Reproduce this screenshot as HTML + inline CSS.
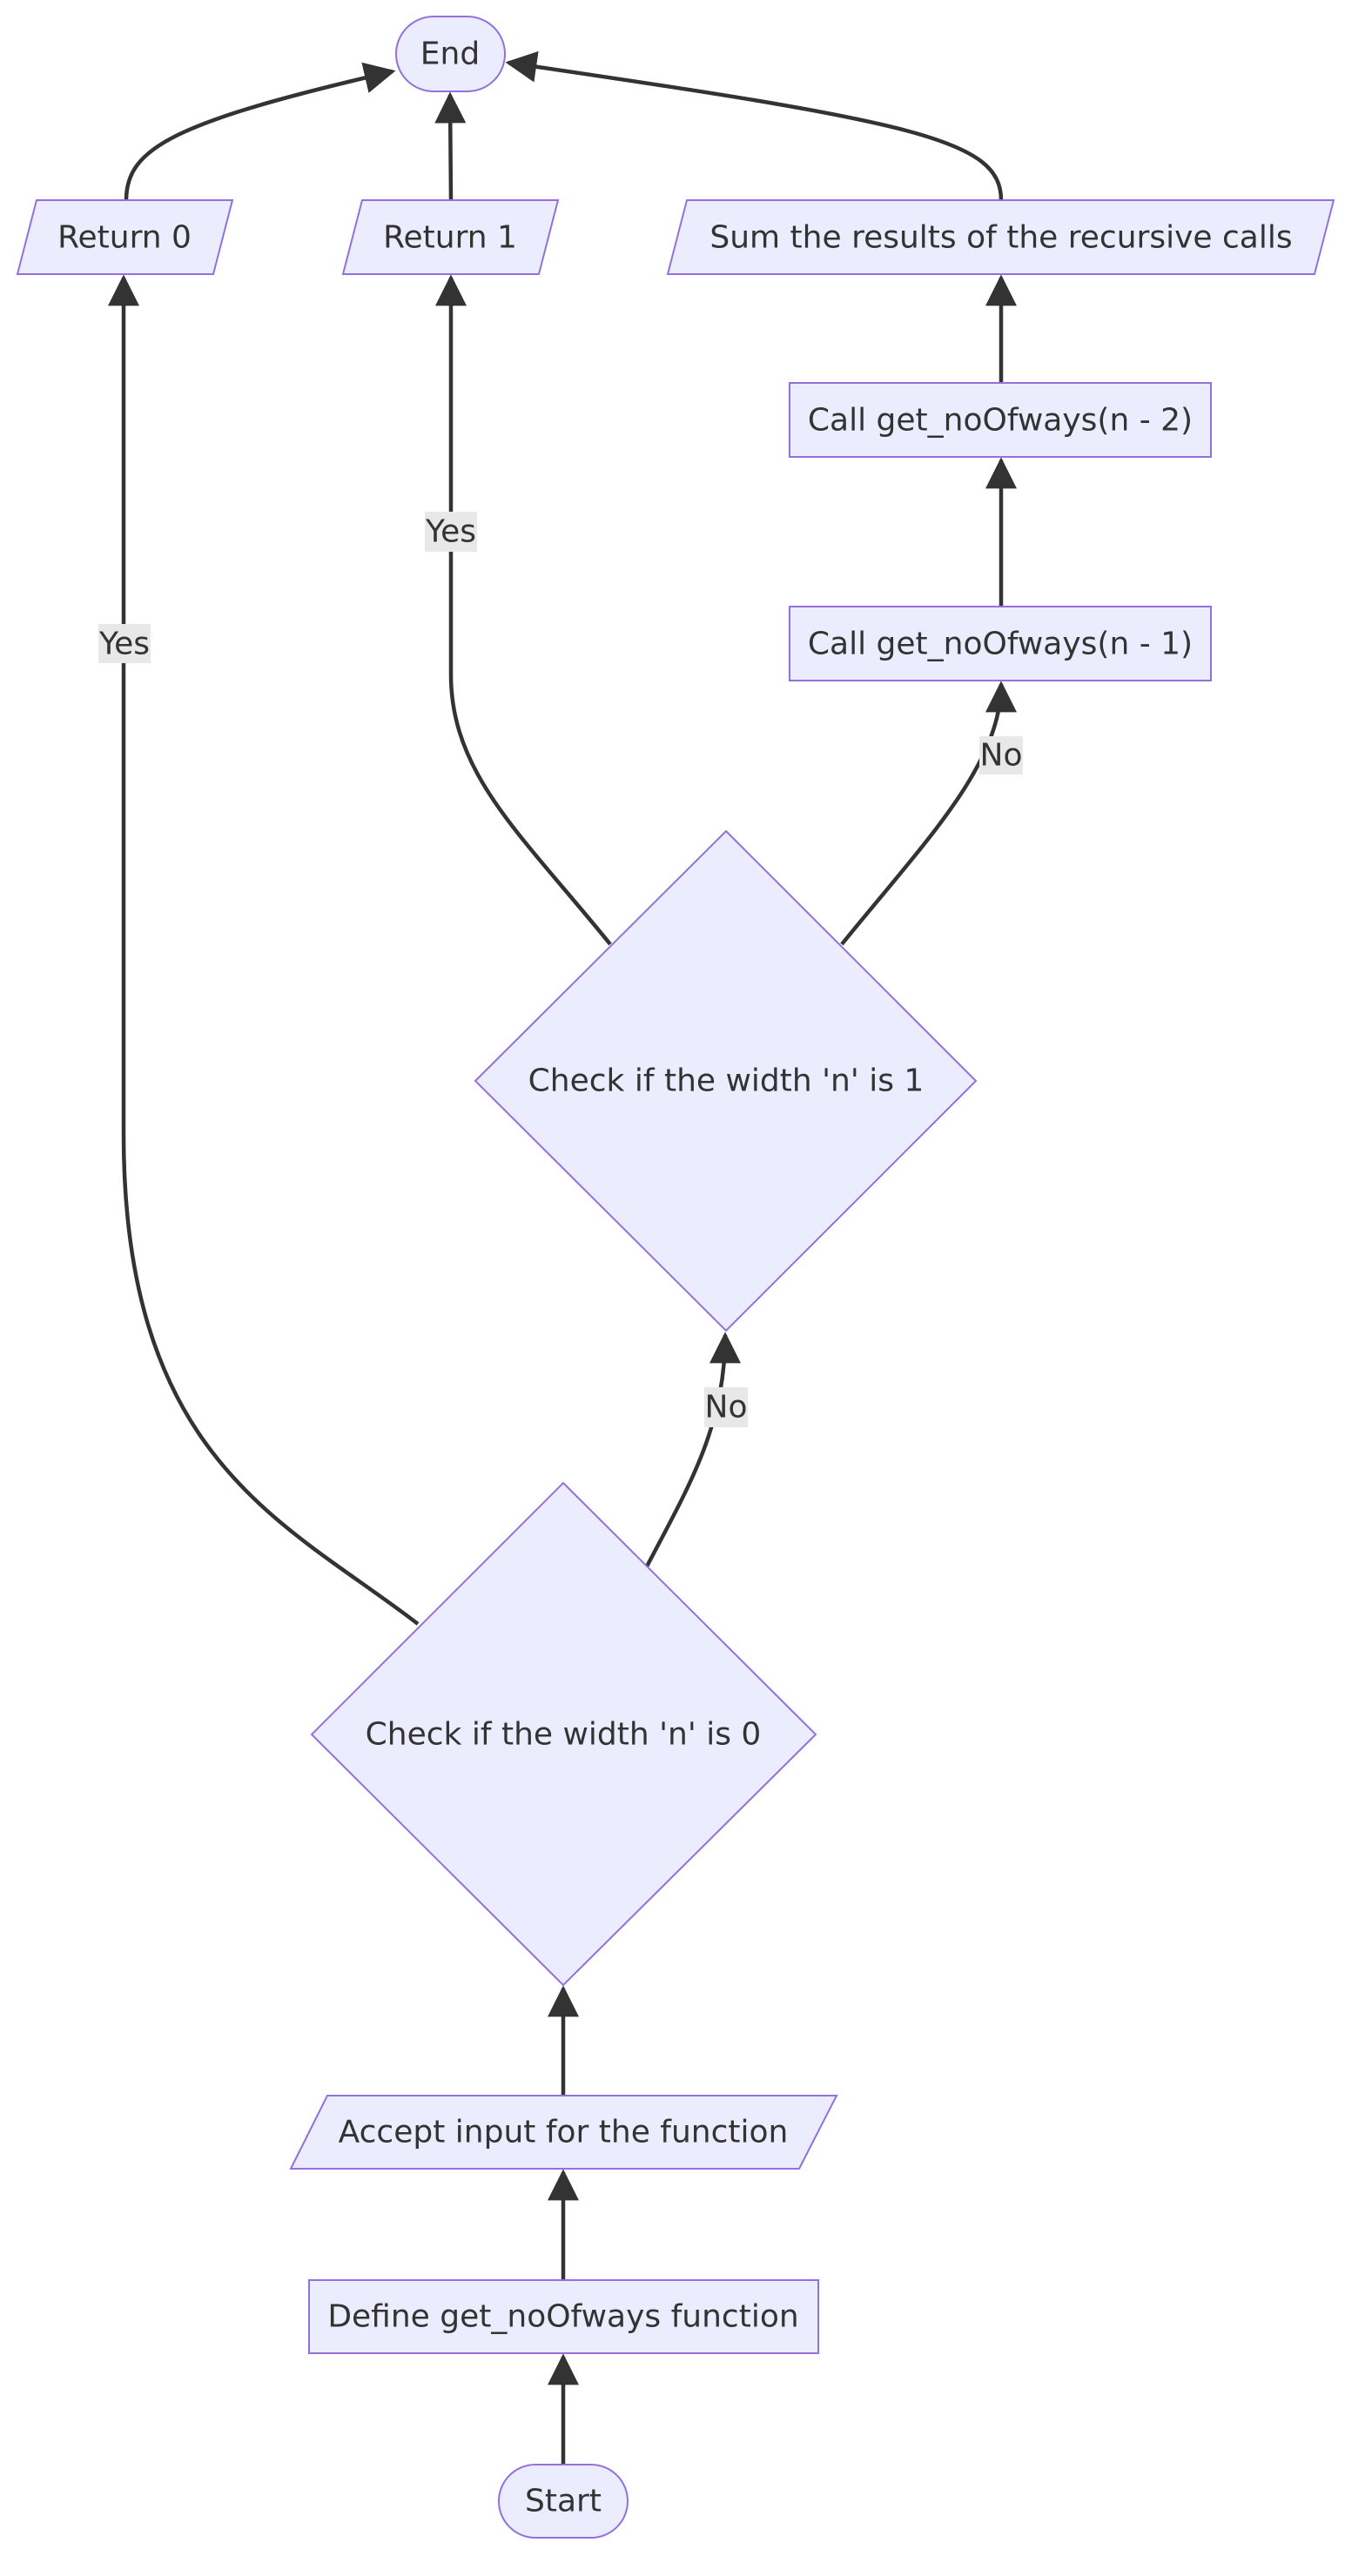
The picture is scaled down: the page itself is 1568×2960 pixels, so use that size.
<!DOCTYPE html>
<html><head><meta charset="utf-8"><style>
html,body{margin:0;padding:0;background:#fff;}
svg{display:block;}
text{font-family:"DejaVu Sans","Liberation Sans",sans-serif;font-size:36px;fill:#333;}
</style></head><body>
<svg width="1568" height="2960" viewBox="0 0 1568 2960" xmlns="http://www.w3.org/2000/svg">
<defs>
<marker id="a" viewBox="0 0 10 10" refX="9" refY="5" markerWidth="8" markerHeight="8" markerUnits="strokeWidth" orient="auto">
<path d="M0,0 L10,5 L0,10 z" fill="#333"/></marker>
</defs>
<g fill="none" stroke="#333" stroke-width="4.5" marker-end="url(#a)">
<path d="M647 2832 L647 2708"/>
<path d="M647 2620 L647 2496"/>
<path d="M647 2408 L647 2285"/>
<path d="M743 1800 C790 1710 833 1640 833 1534"/>
<path d="M480 1866 C330 1750 142 1680 142 1303 L142 319"/>
<path d="M701 1085 C600 960 518 890 518 775 L518 319"/>
<path d="M967 1085 C1060 970 1150 880 1150 786"/>
<path d="M1150 697 L1150 529"/>
<path d="M1150 440 L1150 319"/>
<path d="M145 230 C145 170 200 140 451 82"/>
<path d="M518 230 L517 109"/>
<path d="M1150 230 C1150 160 1050 140 584 72"/>
</g>
<g fill="#e8e8e8">
<rect x="113" y="717" width="60" height="45"/>
<rect x="488" y="588" width="60" height="46"/>
<rect x="1125" y="846" width="50" height="44"/>
<rect x="809" y="1594" width="50" height="46"/>
</g>
<g fill="#ECECFF" stroke="#9370DB" stroke-width="2">
<rect x="455" y="19" width="125" height="86" rx="43"/>
<polygon points="42,230 267,230 245,315 20,315"/>
<polygon points="416,230 641,230 619,315 394,315"/>
<polygon points="789,230 1532,230 1510,315 767,315"/>
<rect x="907" y="440" width="484" height="85"/>
<rect x="907" y="697" width="484" height="85"/>
<polygon points="834,955 1121,1242 834,1529 546,1242"/>
<polygon points="647,1704 937,1993 647,2281 358,1993"/>
<polygon points="376,2408 961,2408 918,2492 334,2492"/>
<rect x="355" y="2620" width="585" height="84"/>
<rect x="573" y="2832" width="148" height="84" rx="42"/>
</g>
<g text-anchor="middle" dominant-baseline="central">
<text x="517" y="62">End</text>
<text x="143" y="273">Return 0</text>
<text x="517" y="273">Return 1</text>
<text x="1150" y="273">Sum the results of the recursive calls</text>
<text x="1149" y="483">Call get_noOfways(n - 2)</text>
<text x="1149" y="740">Call get_noOfways(n - 1)</text>
<text x="834" y="1242">Check if the width 'n' is 1</text>
<text x="647" y="1993">Check if the width 'n' is 0</text>
<text x="647" y="2450">Accept input for the function</text>
<text x="647" y="2662">Define get_noOfways function</text>
<text x="647" y="2874">Start</text>
<text x="143" y="740">Yes</text>
<text x="518" y="611">Yes</text>
<text x="1150" y="868">No</text>
<text x="834" y="1617">No</text>
</g>
</svg>
</body></html>
